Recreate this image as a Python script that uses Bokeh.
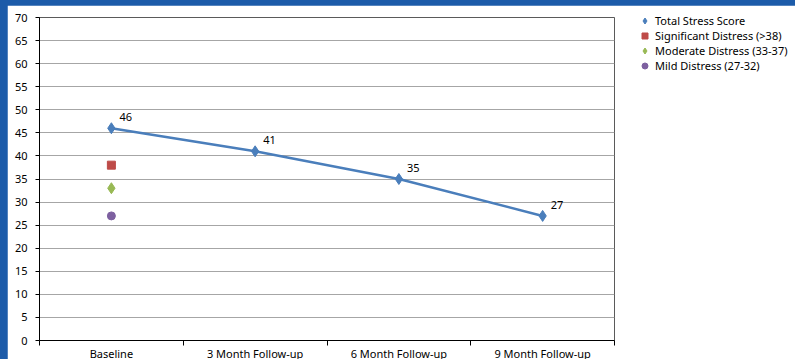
from bokeh.plotting import figure
from bokeh.models import (ColumnDataSource, FixedTicker, LabelSet, Legend,
                          LegendItem, Range1d)
from bokeh.core.properties import value
from bokeh.embed import file_html
from bokeh.resources import INLINE
import numpy as np

# Data
categories = ["Baseline", "3 Month Follow-up", "6 Month Follow-up", "9 Month Follow-up"]
total_stress = [46, 41, 35, 27]
significant_distress = [38]   # Baseline only
moderate_distress = [33]      # Baseline only
mild_distress = [27]          # Baseline only
y_ticks = list(range(0, 75, 5))

FONT = "Noto Sans"
BLUE = "#4a7ebb"
RED = "#be4b48"
GREEN = "#98b954"
PURPLE = "#7d60a0"

xs = np.arange(len(categories)) + 0.5

p = figure(
    width=788, height=354,
    frame_width=575, frame_height=323,
    min_border_left=32, min_border_top=12, min_border_right=181,
    x_range=Range1d(0, len(categories)), y_range=Range1d(0, 70),
    output_backend="svg", toolbar_location=None,
    margin=(5, 0, 0, 7),
)
p.background_fill_color = "white"
p.border_fill_color = "white"
p.outline_line_color = "#5a5a5a"
p.outline_line_width = 1

# Axes
p.xaxis.ticker = FixedTicker(ticks=list(xs), minor_ticks=list(range(len(categories) + 1)))
p.xaxis.major_label_overrides = {float(x): c for x, c in zip(xs, categories)}
p.xaxis.major_tick_out = 0
p.xaxis.major_tick_in = 0
p.xaxis.minor_tick_out = 5
p.xaxis.minor_tick_in = 0
p.xaxis.minor_tick_line_color = "black"
p.xaxis.major_label_standoff = 0
p.xgrid.grid_line_color = None

p.yaxis.ticker = FixedTicker(ticks=y_ticks)
p.yaxis.major_tick_out = 4
p.yaxis.major_tick_in = 0
p.yaxis.minor_tick_line_color = None
p.yaxis.major_label_standoff = 8
p.ygrid.grid_line_color = "#a6a6a6"
p.ygrid.grid_line_width = 1

for ax in (p.xaxis, p.yaxis):
    ax.axis_line_color = "black"
    ax.major_tick_line_color = "black"
    ax.major_label_text_font = FONT
    ax.major_label_text_font_size = "11px"
    ax.major_label_text_color = "black"

# Series
src = ColumnDataSource(dict(x=xs, y=total_stress, lbl=[str(v) for v in total_stress]))
line = p.line("x", "y", source=src, line_color=BLUE, line_width=2.5)
pts = p.scatter("x", "y", source=src, marker="diamond", size=11, color=BLUE)

base_x = [xs[0]]
sig = p.scatter(base_x, significant_distress, marker="square", size=8, color=RED)
mod = p.scatter(base_x, moderate_distress, marker="diamond", size=11, color=GREEN)
mild = p.scatter(base_x, mild_distress, marker="circle", size=8, color=PURPLE)

labels = LabelSet(x="x", y="y", text="lbl", source=src, x_offset=8, y_offset=7,
                  text_font=value(FONT), text_font_size=value("11px"), text_color="black",
                  text_align="left", text_baseline="bottom")
p.add_layout(labels)

legend = Legend(items=[
    LegendItem(label="Total Stress Score", renderers=[pts]),
    LegendItem(label="Significant Distress (>38)", renderers=[sig]),
    LegendItem(label="Moderate Distress (33-37)", renderers=[mod]),
    LegendItem(label="Mild Distress (27-32)", renderers=[mild]),
], location=(23, 267))
legend.label_text_font = FONT
legend.label_text_font_size = "11px"
legend.label_text_color = "black"
legend.label_text_line_height = 1.0
legend.label_height = 12
legend.glyph_height = 15
legend.glyph_width = 15
legend.label_standoff = 3
legend.spacing = 0
legend.padding = 0
legend.margin = 0
legend.border_line_alpha = 0
legend.background_fill_alpha = 0
p.add_layout(legend, "right")

html = file_html(p, INLINE)
html = html.replace("</head>",
                    "<style>html,body{margin:0;background:#1c5ba9;}</style></head>", 1)
open("out.html", "w").write(html)
